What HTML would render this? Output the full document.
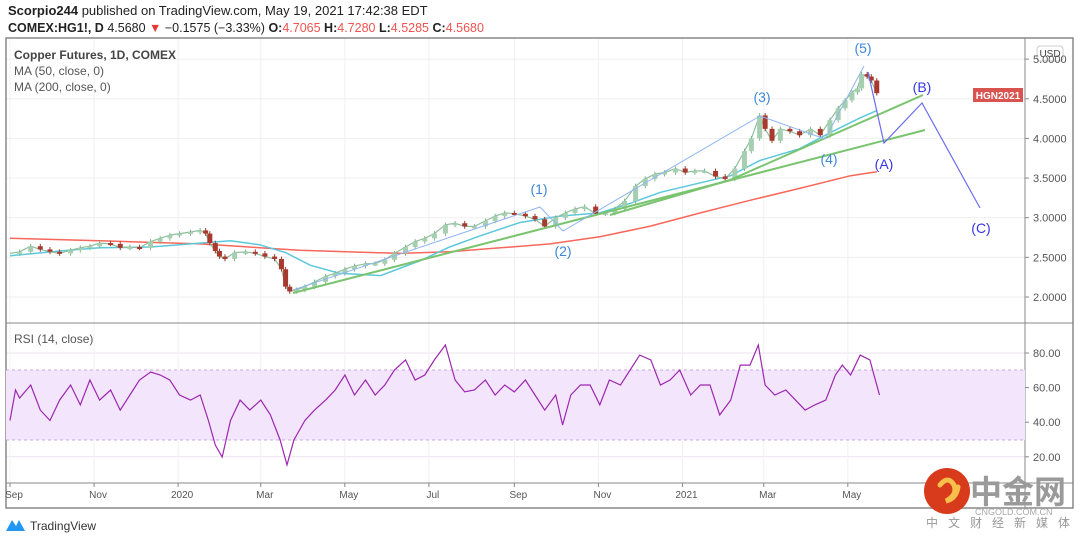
<!DOCTYPE html>
<html><head><meta charset="utf-8">
<style>
body{margin:0;background:#fff;width:1080px;height:542px;overflow:hidden;font-family:"Liberation Sans","Noto Sans CJK SC",sans-serif}
svg text{font-family:"Liberation Sans","Noto Sans CJK SC",sans-serif}
</style></head><body>
<svg id="c" width="1080" height="542" viewBox="0 0 1080 542">
<text x="8" y="15" font-size="13" fill="#222"><tspan font-weight="bold">Scorpio244</tspan> published on TradingView.com, May 19, 2021 17:42:38 EDT</text>
<text x="8" y="32" font-size="12.5" fill="#222"><tspan font-weight="bold">COMEX:HG1!, D</tspan> 4.5680 <tspan fill="#e53935">▼</tspan> −0.1575 (−3.33%) <tspan font-weight="bold">O:</tspan><tspan fill="#ef5350">4.7065</tspan> <tspan font-weight="bold">H:</tspan><tspan fill="#ef5350">4.7280</tspan> <tspan font-weight="bold">L:</tspan><tspan fill="#ef5350">4.5285</tspan> <tspan font-weight="bold">C:</tspan><tspan fill="#ef5350">4.5680</tspan></text>
<g id="grid"></g>
<rect x="6" y="38" width="1067" height="470" fill="none" stroke="#888" stroke-width="1.5"/>
<line x1="1025" y1="38" x2="1025" y2="508" stroke="#888"/>
<line x1="6" y1="323" x2="1073" y2="323" stroke="#888"/>
<line x1="6" y1="483" x2="1073" y2="483" stroke="#888"/>
<rect x="6" y="370" width="1019" height="70" fill="#f3e5fb"/>
<line x1="6" y1="370" x2="1025" y2="370" stroke="#c9a9dc" stroke-dasharray="3,3"/>
<line x1="6" y1="440" x2="1025" y2="440" stroke="#c9a9dc" stroke-dasharray="3,3"/>
<g id="plot"></g>
<text x="14" y="59" font-size="12" font-weight="bold" fill="#444">Copper Futures, 1D, COMEX</text>
<text x="14" y="75" font-size="12" fill="#555">MA (50, close, 0)</text>
<text x="14" y="91" font-size="12" fill="#555">MA (200, close, 0)</text>
<text x="14" y="343" font-size="12" fill="#555">RSI (14, close)</text>
<rect x="1037" y="46" width="26" height="15" rx="3" fill="#fff" stroke="#ccc"/>
<text x="1050" y="57" font-size="10" fill="#444" text-anchor="middle">USD</text>
<rect x="973" y="88" width="50" height="14" fill="#d9534f"/>
<text x="998" y="99" font-size="10" fill="#fff" text-anchor="middle" font-weight="bold">HGN2021</text>
<g>
<path d="M6 531 L12 520 L16 526 L19 520 L25 531 Z" fill="#2196f3"/>
<text x="30" y="530" font-size="12" fill="#333">TradingView</text>
</g>
<g>
<circle cx="947" cy="491" r="23" fill="#d83a1c"/>
<path d="M940 485 q8 -10 14 0 q4 10 -8 16 q10 -2 12 -14" fill="none" stroke="#f7c04a" stroke-width="5" stroke-linecap="round"/>
<text x="970" y="503" font-size="32" font-weight="bold" fill="#9a9a9a" font-family="Noto Sans CJK SC">中金网</text>
<text x="975" y="515" font-size="9" fill="#aaa">CNGOLD.COM.CN</text>
<text x="926" y="527" font-size="12" fill="#999" letter-spacing="10" font-family="Noto Sans CJK SC">中文财经新媒体</text>
</g>
</svg>
<script>
const priceDays=[0,7,15,22,29,36,44,51,58,65,73,80,87,94,102,109,116,123,131,138,142,145,149,152,156,163,171,178,185,192,197,200,203,208,214,221,229,236,243,250,258,265,272,279,287,294,301,308,316,323,330,337,345,352,359,366,374,381,388,396,403,410,417,425,432,439,446,454,461,468,475,483,490,497,504,512,519,526,533,538,544,548,553,559,566,573,581,588,595,601,606,611,615,618,622,625,629];
const closes=[2.55,2.57,2.64,2.60,2.57,2.55,2.59,2.62,2.64,2.68,2.67,2.62,2.63,2.62,2.70,2.74,2.78,2.80,2.82,2.84,2.80,2.68,2.58,2.51,2.48,2.56,2.57,2.55,2.51,2.48,2.35,2.13,2.07,2.09,2.13,2.19,2.26,2.30,2.35,2.39,2.42,2.42,2.47,2.55,2.63,2.70,2.74,2.80,2.91,2.93,2.89,2.89,2.96,3.02,3.06,3.05,3.02,2.98,2.89,3.00,3.06,3.11,3.14,3.05,3.06,3.11,3.21,3.40,3.49,3.55,3.57,3.62,3.57,3.59,3.59,3.52,3.49,3.62,3.84,4.00,4.29,4.12,3.97,4.12,4.09,4.04,4.12,4.04,4.23,4.38,4.48,4.58,4.63,4.81,4.78,4.73,4.57];
const ma50Days=[0,36,65,102,138,160,181,200,218,239,269,298,319,341,370,399,428,450,472,501,523,544,573,595,617,629];
const ma50=[2.52,2.58,2.62,2.63,2.68,2.71,2.66,2.56,2.40,2.30,2.27,2.46,2.63,2.77,2.94,3.02,3.06,3.18,3.32,3.44,3.53,3.72,3.87,4.07,4.26,4.35];
const ma200Days=[0,65,138,210,283,319,356,392,428,464,501,537,573,610,629];
const ma200=[2.74,2.71,2.67,2.59,2.55,2.57,2.62,2.67,2.76,2.89,3.06,3.22,3.37,3.53,3.58];
const rsiDays=[0,4,7,15,22,29,36,44,51,58,65,73,80,87,94,102,109,116,123,131,138,144,149,154,160,167,174,182,189,196,201,206,214,221,229,236,243,250,258,265,272,279,287,294,301,308,316,323,330,337,345,352,359,366,374,381,388,396,401,407,414,421,428,435,443,450,457,465,472,479,486,494,501,508,515,523,530,537,543,548,555,563,570,577,584,592,599,604,610,617,624,627,631,634];
const rsi=[41,58.6,54,61.5,47,41,52.8,61.5,50,64.4,52.8,58.6,47,55.7,64.4,69,67.3,64.4,55.7,52.8,55.7,41,26.8,19.9,41,52.8,47,52.8,44.2,29.7,15.3,29.7,41,47,52.8,58.6,67.3,55.7,64.4,55.7,61.5,70.2,76,64.4,67.3,76,84.6,64.4,57.5,58.6,64.4,55.7,61.5,57.5,64.4,55.7,47,55.7,38.4,55.7,61.5,61.5,50,64.4,61.5,70.2,78.8,76,61.5,64.4,70.2,55.7,61.5,61.5,44.2,52.8,73,73,84.6,61.5,55.7,58.6,52.8,47,50,52.8,67.3,73,67.3,78.8,76,67.3,55.7];
const priceTicks=[2.0,2.5,3.0,3.5,4.0,4.5,5.0];
const rsiTicks=[20,40,60,80];
const monthLabels=["Sep","Nov","2020","Mar","May","Jul","Sep","Nov","2021","Mar","May"];
const monthDays=[0,61,122,182,243,304,366,427,488,547,608];

const NS="http://www.w3.org/2000/svg";
const X=d=>10+d*1.378;
const Y=p=>297-(p-2.0)*79.3;
const R=v=>353+(80-v)*1.73;
function mk(tag,attrs,parent){const e=document.createElementNS(NS,tag);for(const k in attrs)e.setAttribute(k,attrs[k]);parent.appendChild(e);return e;}
const grid=document.getElementById('grid'),plot=document.getElementById('plot'),svg=document.getElementById('c');
priceTicks.forEach(t=>{
  const l=mk('line',{x1:6,x2:1025,y1:Y(t),y2:Y(t),stroke:'#efefef'},grid);
  
  
  const tk=mk('line',{x1:1025,x2:1029,y1:Y(t),y2:Y(t),stroke:'#888'},grid);
  
  
  const tx=mk('text',{x:1033,y:Y(t)+4,'font-size':11,fill:'#555'},svg);
  tx.textContent=t.toFixed(4);
  
  
});
rsiTicks.forEach(t=>{
  const l=mk('line',{x1:6,x2:1025,y1:R(t),y2:R(t),stroke:'#ebe3ef'},grid);
  
  
  const tk=mk('line',{x1:1025,x2:1029,y1:R(t),y2:R(t),stroke:'#888'},grid);
  
  
  const tx=mk('text',{x:1033,y:R(t)+4,'font-size':11,fill:'#555'},svg);
  tx.textContent=t.toFixed(2);
  
  
});
monthLabels.forEach((m,i)=>{
  const x=X(monthDays[i]);
  const l=mk('line',{x1:x,x2:x,y1:38,y2:483,stroke:'#f0f0f0'},grid);
  
  
  const tk=mk('line',{x1:x,x2:x,y1:483,y2:487,stroke:'#888'},grid);
  
  
  const tx=mk('text',{x:x+4,y:498,'font-size':10,fill:'#555','text-anchor':'middle'},svg);
  tx.textContent=m;
  
  
});
function poly(days,vals,f,attrs,name){
  const pts=days.map((d,i)=>X(d).toFixed(1)+','+f(vals[i]).toFixed(1)).join(' ');
  const p=mk('polyline',Object.assign({points:pts,fill:'none'},attrs),plot);
  
  
}
poly(ma200Days,ma200,Y,{stroke:'#f7675a','stroke-width':1.5},'ma200-line');
poly(ma50Days,ma50,Y,{stroke:'#5cc8dc','stroke-width':1.5},'ma50-line');
poly(priceDays,closes,Y,{stroke:'#8fbf9c','stroke-width':1.2},'close-line');
closes.forEach((c,i)=>{
  if(i===0)return;
  const o=closes[i-1],x=X(priceDays[i]),up=c>=o;
  const hi=Math.max(o,c)+0.03,lo=Math.min(o,c)-0.03;
  const w=mk('line',{x1:x,x2:x,y1:Y(hi),y2:Y(lo),stroke:up?'#7fb38e':'#9a3b32','stroke-width':1},plot);
  
  
  const b=mk('rect',{x:x-2.5,y:Y(Math.max(o,c)),width:5,height:Math.max(2,Math.abs(Y(o)-Y(c))),fill:up?'#a5cfb0':'#a8392f'},plot);
  
  
});
poly(rsiDays,rsi,R,{stroke:'#9c27b0','stroke-width':1.2},'rsi-line');
function line(pts,color,w,name){
  const p=mk('polyline',{points:pts,fill:'none',stroke:color,'stroke-width':w},plot);
  
  
}
line('293,293 925,130','#7ac46f',2,'trendline-lower');
line('610,215 730,180 923,95','#7ac46f',2,'trendline-upper');
line('293,290 540,207 563,231 760,116 825,139 864,66','#8fb6f0',1,'elliott-wave-impulse');
line('868,72 884,143 922,103 980,208','#6b6bf0',1.2,'elliott-wave-correction');
const labels=[["(1)",539,194,'#3d88d8'],["(2)",563,256,'#3d88d8'],["(3)",762,102,'#3d88d8'],["(4)",829,164,'#3d88d8'],["(5)",863,53,'#3d88d8'],["(A)",884,169,'#3535e8'],["(B)",922,92,'#3535e8'],["(C)",981,233,'#3535e8']];
labels.forEach(l=>{
  const t=mk('text',{x:l[1],y:l[2],'font-size':14,fill:l[3],'text-anchor':'middle'},plot);
  t.textContent=l[0];
  
  
});
</script>
</body></html>
